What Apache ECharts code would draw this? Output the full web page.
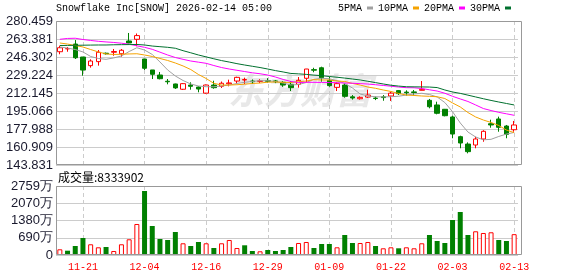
<!DOCTYPE html>
<html>
<head>
<meta charset="utf-8">
<script src="https://cdn.jsdelivr.net/npm/echarts@6/dist/echarts.min.js"></script>
<style>
  html, body { margin: 0; padding: 0; background: #fff; }
  #chart { width: 578px; height: 276px; }
</style>
</head>
<body>
<div id="chart"></div>
<script>
  const titleText = 'Snowflake Inc[SNOW] 2026-02-14 05:00'
  const lastVolume = 8333902

  const dates = ['11-18', '11-19', '11-20', '11-21', '11-24', '11-25', '11-26', '11-28',
    '12-01', '12-02', '12-03', '12-04', '12-05', '12-08', '12-09', '12-10', '12-11', '12-12',
    '12-15', '12-16', '12-17', '12-18', '12-19', '12-22', '12-23', '12-24', '12-26',
    '12-29', '12-30', '12-31', '01-02', '01-05', '01-06', '01-07', '01-08', '01-09',
    '01-12', '01-13', '01-14', '01-15', '01-16', '01-20', '01-21', '01-22', '01-23',
    '01-26', '01-27', '01-28', '01-29', '01-30', '02-02', '02-03', '02-04', '02-05', '02-06',
    '02-09', '02-10', '02-11', '02-12', '02-13']

  const opens = [251.3, 254.0, 258.6, 246.3, 238.1, 241.9, 249.9, 250.8, 249.4, 261.5,
    263.1, 244.4, 234.0, 229.2, 223.3, 220.7, 215.7, 219.7, 217.8, 212.0,
    219.7, 218.5, 220.9, 223.5, 224.5, 223.5, 223.2, 223.8, 223.6, 222.3,
    220.4, 220.4, 226.1, 234.3, 236.1, 224.2, 217.5, 219.7, 208.5, 206.7,
    208.3, 207.3, 208.5, 209.3, 214.4, 213.0, 213.2, 214.7, 205.2, 200.8,
    196.7, 189.4, 170.7, 163.7, 162.8, 168.5, 183.0, 187.5, 180.8, 177.3]
  const closes = [255.1, 254.3, 245.6, 233.9, 242.5, 250.8, 249.4, 251.5, 252.7, 259.6,
    266.6, 235.6, 229.9, 225.7, 222.8, 217.0, 221.0, 218.5, 215.9, 219.7,
    217.2, 221.4, 221.7, 227.0, 224.9, 222.8, 223.6, 223.3, 222.8, 219.7,
    217.2, 224.2, 234.9, 233.8, 226.7, 219.1, 221.0, 209.0, 207.4, 208.0,
    210.2, 207.0, 207.8, 212.0, 211.5, 212.4, 212.6, 215.6, 199.1, 192.9,
    190.6, 173.2, 164.7, 156.5, 168.5, 175.8, 181.8, 179.6, 172.9, 181.8]
  const lows = [248.9, 251.3, 244.4, 228.6, 236.2, 238.1, 248.6, 247.5, 246.6, 259.3,
    256.5, 234.0, 225.4, 225.1, 220.4, 216.0, 215.0, 215.3, 212.8, 211.5,
    216.2, 216.9, 218.5, 221.0, 220.7, 220.7, 221.6, 222.0, 221.5, 218.0,
    214.0, 217.2, 222.3, 231.8, 222.9, 218.1, 214.0, 207.7, 205.9, 205.9,
    207.4, 205.4, 204.8, 204.6, 210.3, 209.6, 209.9, 214.6, 197.6, 191.9,
    190.0, 169.2, 159.7, 154.9, 159.7, 165.9, 179.2, 175.4, 169.2, 175.4]
  const highs = [257.0, 255.8, 262.4, 246.3, 244.1, 252.9, 250.5, 253.9, 253.9, 269.1,
    268.6, 244.4, 234.0, 232.1, 225.4, 221.0, 221.5, 222.3, 218.5, 220.2,
    223.8, 223.0, 224.8, 227.6, 226.7, 225.0, 225.2, 226.2, 224.5, 223.3,
    223.5, 227.3, 235.0, 236.1, 237.1, 227.6, 222.3, 221.4, 210.2, 209.0,
    215.3, 208.8, 210.2, 213.4, 215.0, 214.7, 215.0, 223.5, 206.5, 203.9,
    197.0, 190.6, 171.6, 165.3, 170.7, 176.8, 186.8, 189.7, 181.8, 185.6]

  // volume in shares
  const volumes = [2280000, 1720000, 3600000, 6800000, 4280000, 3080000, 3200000, 1600000, 4280000, 6280000,
    12400000, 25600000, 11600000, 6400000, 6000000, 9200000, 4680000, 3600000, 5200000, 4680000,
    2800000, 4680000, 6000000, 2800000, 3880000, 1600000, 1480000, 2000000, 1600000, 2000000,
    3200000, 4800000, 5200000, 2800000, 4400000, 4400000, 3080000, 8000000, 4800000, 4800000,
    5200000, 3600000, 2680000, 3080000, 2680000, 3080000, 2680000, 4680000, 8000000, 5600000,
    4800000, 14000000, 17200000, 8000000, 9480000, 8800000, 9080000, 6000000, 5600000, 8333902]

  const ma5 = [255.8, 254.8, 253.4, 251.1, 246.8, 244.9, 244.1, 245.4, 247.3, 251.5,
    255.1, 252.9, 248.7, 241.6, 234.0, 228.3, 224.0, 220.7, 218.8, 218.1,
    218.1, 218.8, 219.7, 221.2, 222.3, 223.1, 223.8, 223.8, 223.1, 221.6,
    219.7, 220.2, 222.1, 225.2, 226.1, 225.7, 223.8, 221.2, 216.9, 211.2,
    209.3, 208.6, 208.4, 208.6, 209.1, 210.2, 211.2, 211.9, 210.7, 208.4,
    203.1, 194.4, 183.7, 175.1, 170.4, 167.7, 168.2, 170.9, 173.2, 174.7]
  const ma10 = [259.6, 258.6, 257.2, 255.8, 253.4, 251.1, 249.2, 248.7, 248.9, 249.2,
    249.4, 248.2, 246.8, 244.9, 243.0, 240.6, 237.8, 234.4, 229.7, 225.9,
    221.3, 219.7, 219.7, 220.0, 220.5, 221.2, 221.6, 222.4, 222.6, 222.3,
    222.1, 222.9, 223.5, 224.8, 224.5, 224.5, 223.5, 223.1, 221.2, 219.7,
    217.8, 216.6, 215.0, 213.6, 211.7, 210.2, 209.8, 209.3, 209.0, 208.6,
    206.9, 202.7, 198.9, 193.6, 189.4, 186.5, 184.2, 181.3, 177.0, 174.5]
  const ma20 = [263.1, 263.9, 264.1, 262.9, 262.0, 261.2, 260.6, 260.1, 259.4, 258.4,
    256.9, 255.5, 253.6, 250.9, 248.2, 245.8, 244.1, 242.5, 241.4, 240.3,
    238.2, 236.3, 234.9, 233.7, 232.5, 231.3, 230.4, 229.2, 227.3, 225.0,
    223.1, 222.1, 222.3, 222.3, 222.2, 222.1, 221.9, 221.6, 221.4, 221.0,
    220.6, 220.0, 219.3, 218.6, 217.8, 217.2, 217.1, 216.4, 215.2, 214.0,
    211.9, 209.0, 206.5, 204.1, 200.8, 197.4, 195.5, 193.8, 192.4, 191.0]
  const ma30 = [257.2, 257.3, 257.4, 257.5, 257.6, 257.7, 257.7, 257.9, 258.0, 258.1,
    258.2, 257.7, 256.7, 256.1, 255.5, 254.6, 252.3, 250.3, 248.2, 246.4,
    244.6, 242.9, 241.5, 240.0, 238.7, 237.5, 236.3, 234.9, 233.4, 232.1,
    230.7, 230.3, 229.8, 229.1, 228.6, 227.8, 227.1, 226.3, 225.4, 224.5,
    223.3, 222.0, 220.7, 219.5, 218.7, 218.1, 218.0, 217.9, 217.8, 217.3,
    215.0, 213.1, 211.8, 210.1, 208.4, 206.7, 205.1, 203.6, 202.2, 200.8]

  const priceTicks = ['143.831', '160.909', '177.988', '195.066', '212.145', '229.224', '246.302', '263.381', '280.459']
  const volTicks = ['0', '690万', '1380万', '2070万', '2759万']
  const priceMin = 143.831
  const priceMax = 280.459
  const volMax = 27590000

  const RED = '#ff0000'
  const GREEN = '#008000'
  const labelEvery = (i) => (i - 3) % 8 === 0

  const candleData = opens.map((o, i) => [o, closes[i], lows[i], highs[i]])
  const volData = volumes.map((v, i) => {
    const prev = i > 0 ? closes[i - 1] : opens[i]
    const up = closes[i] >= prev
    return {
      value: v,
      itemStyle: up
        ? { color: '#fff', borderColor: RED, borderWidth: 1 }
        : { color: GREEN, borderColor: GREEN, borderWidth: 0 }
    }
  })

  const splitX = {
    show: true,
    interval: labelEvery,
    alignWithLabel: true,
    lineStyle: { color: '#cccccc', type: [4, 3], width: 1 }
  }
  const yLabel = { color: '#1a1a2e', fontFamily: 'Liberation Sans', fontSize: 13, margin: 3 }

  const chart = echarts.init(document.getElementById('chart'))
  chart.setOption({
    animation: false,
    title: [{
      text: titleText,
      left: 56,
      top: 3,
      padding: 0,
      textStyle: { fontFamily: 'Liberation Mono', fontSize: 10, fontWeight: 'normal', color: '#000' }
    }, {
      text: '成交量:' + lastVolume,
      left: 58,
      top: 171,
      padding: 0,
      textStyle: { fontFamily: 'Noto Sans CJK SC', fontSize: 12, fontWeight: 'normal', color: '#000' }
    }],
    legend: {
      top: 3,
      left: 338,
      padding: 0,
      align: 'right',
      icon: 'rect',
      itemWidth: 6,
      itemHeight: 3,
      itemGap: 5,
      textStyle: { fontFamily: 'Liberation Mono', fontSize: 10, color: '#000' },
      data: ['5PMA', '10PMA', '20PMA', '30PMA']
    },
    grid: [
      { left: 56, top: 21, width: 462, height: 144 },
      { left: 56, top: 186, width: 462, height: 69 }
    ],
    xAxis: [{
      type: 'category',
      gridIndex: 0,
      data: dates,
      axisLine: { show: false },
      axisTick: { show: false },
      axisLabel: { show: false },
      splitLine: splitX
    }, {
      type: 'category',
      gridIndex: 1,
      data: dates,
      axisLine: { show: false },
      axisTick: { show: false },
      axisLabel: {
        interval: labelEvery,
        color: RED,
        fontFamily: 'Liberation Mono',
        fontSize: 10,
        margin: 7
      },
      splitLine: splitX
    }],
    yAxis: [{
      type: 'value',
      gridIndex: 0,
      min: priceMin,
      max: priceMax,
      interval: (priceMax - priceMin) / 8,
      axisLine: { show: false },
      axisTick: { show: false },
      axisLabel: Object.assign({
        formatter: (v) => priceTicks[Math.round((v - priceMin) / ((priceMax - priceMin) / 8))] || ''
      }, yLabel),
      splitLine: { lineStyle: { color: '#cccccc' } }
    }, {
      type: 'value',
      gridIndex: 1,
      min: 0,
      max: volMax,
      interval: volMax / 4,
      axisLine: { show: false },
      axisTick: { show: false },
      axisLabel: Object.assign({
        formatter: (v) => volTicks[Math.round(v / (volMax / 4))] || ''
      }, yLabel),
      splitLine: { lineStyle: { color: '#cccccc' } }
    }],
    graphic: [{
      type: 'text',
      left: 228,
      top: 72,
      silent: true,
      z: 0,
      style: {
        text: '东方财富',
        font: 'italic bold 36px "Noto Sans CJK SC"',
        fill: '#e8e8e8'
      }
    }, {
      type: 'rect',
      silent: true,
      z: 100,
      shape: { x: 56.5, y: 21.5, width: 465, height: 143 },
      style: { fill: 'none', stroke: '#999999', lineWidth: 1 }
    }, {
      type: 'rect',
      silent: true,
      z: 100,
      shape: { x: 56.5, y: 186.5, width: 465, height: 68 },
      style: { fill: 'none', stroke: '#999999', lineWidth: 1 }
    }],
    series: [{
      name: 'K',
      type: 'candlestick',
      xAxisIndex: 0,
      yAxisIndex: 0,
      barWidth: 5,
      data: candleData,
      itemStyle: {
        color: '#ffffff',
        color0: GREEN,
        borderColor: RED,
        borderColor0: GREEN,
        borderWidth: 1
      }
    }, {
      name: '5PMA',
      type: 'line',
      data: ma5,
      symbol: 'none',
      color: '#a0a0a0',
      lineStyle: { width: 1 }
    }, {
      name: '10PMA',
      type: 'line',
      data: ma10,
      symbol: 'none',
      color: '#f5a300',
      lineStyle: { width: 1 }
    }, {
      name: '20PMA',
      type: 'line',
      data: ma20,
      symbol: 'none',
      color: '#ff00ff',
      lineStyle: { width: 1 }
    }, {
      name: '30PMA',
      type: 'line',
      data: ma30,
      symbol: 'none',
      color: '#00702e',
      lineStyle: { width: 1 }
    }, {
      name: 'VOL',
      type: 'bar',
      xAxisIndex: 1,
      yAxisIndex: 1,
      barWidth: 5,
      data: volData
    }]
  })
</script>
</body>
</html>
